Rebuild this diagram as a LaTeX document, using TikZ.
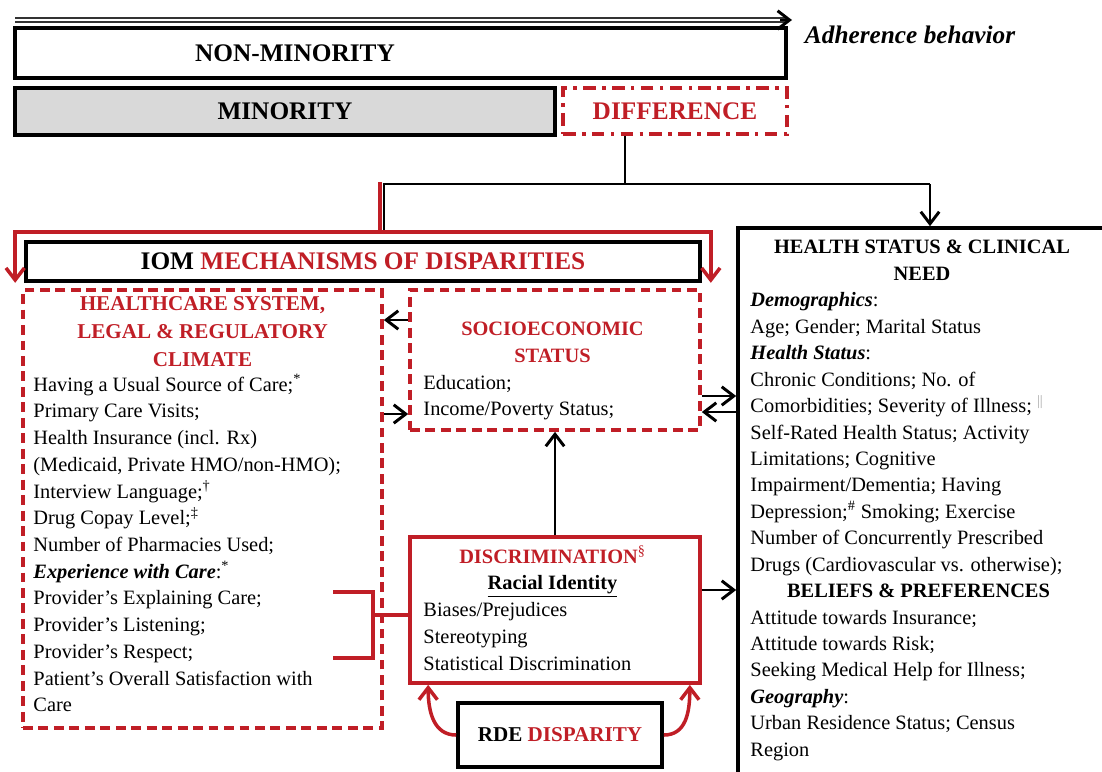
\documentclass[tikz,border=0pt]{standalone}
\usepackage{fontspec}
\setmainfont{Liberation Serif}
\usetikzlibrary{arrows.meta, positioning, calc, fit}
\definecolor{dRed}{RGB}{192,30,38}
\definecolor{mGray}{RGB}{217,217,217}
\tikzset{
    boxblk/.style  ={draw=black, line width=2.6pt, inner sep=0pt},
    boxgray/.style ={boxblk, fill=mGray},
    boxred/.style  ={draw=dRed, line width=2.6pt, inner sep=0pt},
    boxdash/.style ={boxred, dash pattern=on 7pt off 4pt},
    boxdiff/.style ={boxred, dash pattern=on 9pt off 4.5pt on 2.5pt off 4.5pt},
    titletxt/.style={font=\fontsize{18}{22}\selectfont\bfseries},
    hdtxt/.style   ={font=\fontsize{15}{19.8}\selectfont\bfseries, text=dRed, align=center, inner sep=0pt, anchor=north},
    bodytxt/.style ={font=\fontsize{14.5}{19}\selectfont, align=left, inner sep=0pt, anchor=north west},
    adhline/.style ={double=white, double distance=1.6pt, line width=1.5pt, draw=black!80},
    arrowblk/.style={-{Straight Barb[length=3mm,width=4.6mm]}, line width=2.1pt},
    linered/.style ={draw=dRed, line width=2.5pt},
    arrowred/.style={linered, -{Straight Barb[length=3mm,width=4.6mm]}},
}

\begin{document}
\begin{tikzpicture}[x=0.025cm, y=-0.025cm]
    \useasboundingbox (0,0) rectangle (1102,771);
    % top rows
    \coordinate (adhL) at (15,20);
    \coordinate (adhR) at (792,20);
    \draw[adhline] (adhL) -- ($(adhR)+(-6,0)$);
    \draw[arrowblk] ($(adhR)+(-12,0)$) -- (adhR);
    \node[font=\fontsize{18}{22}\selectfont\bfseries\itshape, anchor=west] (adh) at (800,35) {Adherence behavior};
    \node[boxblk, fit={(15,28) (786,78)}] (nonmin) {};
    \node[titletxt] (nonminTxt) at (295,53) {NON-MINORITY};
    \node[boxgray, fit={(15,88) (555,135)}, label={[titletxt]center:MINORITY}] (minority) {};
    \node[boxdiff, fit={(563,88) (787,134)}, label={[titletxt, text=dRed]center:DIFFERENCE}] (diff) {};
    % middle frames
    \node[boxblk, fit={(26,242) (700,281)}, label={[titletxt]center:IOM \textcolor{dRed}{MECHANISMS OF DISPARITIES}}] (iom) {};
    \node[boxdash, fit={(23,290) (382,728)}] (hc) {};
    \node[boxdash, fit={(410,290) (700,430)}] (ses) {};
    \node[boxred, fit={(410,537) (700,683)}] (disc) {};
    \node[boxblk, fit={(458,703) (662,767)}, label={[font=\fontsize{15}{20}\selectfont\bfseries]center:RDE \textcolor{dRed}{DISPARITY}}] (rde) {};
    \node[boxblk, fit={(738,228) (1130,800)}] (hs) {};
    % texts
    \node[hdtxt] (hcHead) at ($(hc.north)+(0,3)$) {\strut HEALTHCARE SYSTEM,\\LEGAL \& REGULATORY\\CLIMATE};
    \node[bodytxt] (hcTxt) at ($(hc.north west)+(12,84)$) {\strut Having a Usual Source of Care;\textsuperscript{*}\\
        Primary Care Visits;\\
        Health Insurance (incl. Rx)\\
        (Medicaid, Private HMO/non-HMO);\\
        Interview Language;\textsuperscript{†}\\
        Drug Copay Level;\textsuperscript{‡}\\
        Number of Pharmacies Used;\\
        \textbf{\textit{Experience with Care}}:\textsuperscript{*}\\
        Provider’s Explaining Care;\\
        Provider’s Listening;\\
        Provider’s Respect;\\
        Patient’s Overall Satisfaction with\\
        Care};
    \node[bodytxt] (sesTxt) at ($(ses.north west)+(15,28.5)$) {\strut\makebox[6.45cm]{\textbf{\textcolor{dRed}{SOCIOECONOMIC}}}\\
        \makebox[6.45cm]{\textbf{\textcolor{dRed}{STATUS}}}\\
        Education;\\
        Income/Poverty Status;};
    \node[bodytxt] (discTxt) at ($(disc.north west)+(15,9)$) {\strut\makebox[6.45cm]{\textbf{\textcolor{dRed}{DISCRIMINATION}}\textsuperscript{\textcolor{dRed}{§}}}\\
        \makebox[6.45cm]{\underline{\textbf{Racial Identity}}}\\
        Biases/Prejudices\\
        Stereotyping\\
        Statistical Discrimination};
    \node[bodytxt, font=\fontsize{14.5}{18.8}\selectfont] (hsTxt) at ($(hs.north west)+(14,9)$) {\strut\makebox[8.575cm]{\textbf{HEALTH STATUS \& CLINICAL}}\\
        \makebox[8.575cm]{\textbf{NEED}}\\
        \textbf{\textit{Demographics}}:\\
        Age; Gender; Marital Status\\
        \textbf{\textit{Health Status}}:\\
        Chronic Conditions; No. of\\
        Comorbidities; Severity of Illness; \textsuperscript{\textcolor{black!35}{||}}\\
        Self-Rated Health Status; Activity\\
        Limitations; Cognitive\\
        Impairment/Dementia; Having\\
        Depression;\textsuperscript{\#} Smoking; Exercise\\
        Number of Concurrently Prescribed\\
        Drugs (Cardiovascular vs. otherwise);\\
        \makebox[8.4cm]{\textbf{BELIEFS \& PREFERENCES}}\\
        Attitude towards Insurance;\\
        Attitude towards Risk;\\
        Seeking Medical Help for Illness;\\
        \textbf{\textit{Geography}}:\\
        Urban Residence Status; Census\\
        Region};
    % connectors from DIFFERENCE
    \coordinate (jL) at (384,184);
    \coordinate (jM) at (625,184);
    \coordinate (jR) at (930,184);
    \coordinate (rTop) at (380,182);
    \coordinate (rMid) at (380,232);
    \draw[line width=2.1pt] (diff.south -| jM) -- (jM);
    \draw[line width=2.1pt] ($(jL)+(0,47)$) -- (jL) -- (jR);
    \draw[arrowblk] (jR) -- (hs.north -| jR);
    \draw[linered] (rTop) -- (rMid);
    \draw[arrowred] (rMid) -| ($(iom.south west)+(-9,0)$);
    \draw[arrowred] (rMid) -| ($(iom.south east)+(9,0)$);
    % arrows between boxes
    \draw[arrowblk] ($(ses.west)+(0,-40)$) coordinate (a1) -- (hc.east |- a1);
    \coordinate (a2) at ($(ses.west)+(0,54)$);
    \draw[arrowblk] (hc.east |- a2) -- (a2);
    \coordinate (a3) at ($(ses.east)+(0,36)$);
    \draw[arrowblk] (a3) -- (hs.west |- a3);
    \coordinate (a4) at ($(ses.east)+(0,52)$);
    \draw[arrowblk] (hs.west |- a4) -- (a4);
    \draw[arrowblk] (disc.north) -- (ses.south);
    \coordinate (a5) at ($(disc.east)+(0,-20)$);
    \draw[arrowblk] (a5) -- (hs.west |- a5);
    % bracket to discrimination
    \coordinate (brT) at (333,592);
    \coordinate (brB) at (333,658);
    \coordinate (brJ) at (373,615);
    \draw[linered] (brT) -- (brT -| brJ) -- (brB -| brJ) -- (brB);
    \draw[linered] (brJ) -- (disc.west |- brJ);
    % RDE feedback
    \draw[arrowred] (rde.west) .. controls +(-22,0) and +(0,28) .. ($(disc.south west)+(20,0)$);
    \draw[arrowred] (rde.east) .. controls +(22,0) and +(0,28) .. ($(disc.south east)+(-12,0)$);
\end{tikzpicture}
\end{document}
